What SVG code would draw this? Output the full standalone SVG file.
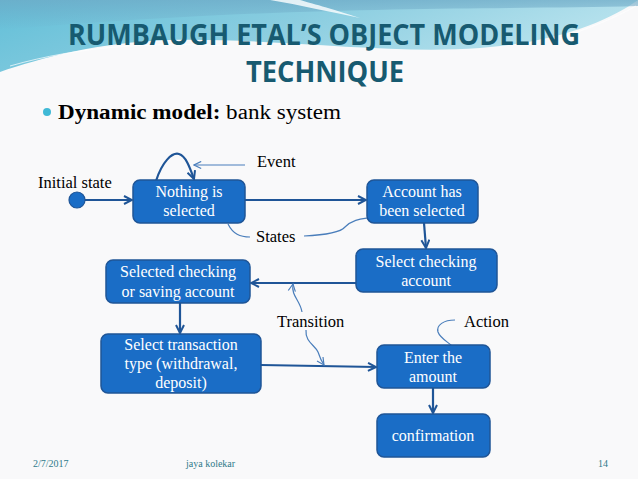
<svg xmlns="http://www.w3.org/2000/svg" width="638" height="479" viewBox="0 0 638 479">
<defs>
<linearGradient id="sw" x1="0" y1="0" x2="1" y2="0.3">
<stop offset="0" stop-color="#62bfd8"/>
<stop offset="0.5" stop-color="#8acde0"/>
<stop offset="1" stop-color="#b9e3ee"/>
</linearGradient>
<linearGradient id="sw2" x1="0" y1="0" x2="0" y2="1">
<stop offset="0" stop-color="#6ea9c6" stop-opacity="0.7"/>
<stop offset="1" stop-color="#6ea9c6" stop-opacity="0"/>
</linearGradient>
<marker id="ah" viewBox="0 0 10 10" refX="9" refY="5" markerWidth="10" markerHeight="10" markerUnits="userSpaceOnUse" orient="auto">
<path d="M1,1 L9,5 L1,9" fill="none" stroke="#1f5597" stroke-width="2"/>
</marker>
<marker id="ah2" viewBox="0 0 10 10" refX="9" refY="5" markerWidth="9" markerHeight="9" markerUnits="userSpaceOnUse" orient="auto-start-reverse">
<path d="M1,1 L9,5 L1,9" fill="none" stroke="#4a7ebb" stroke-width="1.3"/>
</marker>
<style>
.node rect{fill:#1a6dc6;stroke:#1f5597;stroke-width:1.5}
.nt{font-family:"Liberation Serif",serif;font-size:16px;fill:#ffffff;text-anchor:middle}
.lbl{font-family:"Liberation Serif",serif;font-size:16.5px;fill:#000000}
.con{fill:none;stroke:#1f5597;stroke-width:2.2;marker-end:url(#ah)}
.ann{fill:none;stroke:#4a7ebb;stroke-width:1.2}
.ft{font-family:"Liberation Serif",serif;font-size:10px;fill:#2f7a8a}
</style>
</defs>
<rect width="638" height="479" fill="#f9f9fa"/>
<path d="M0,0 H638 C610,20 560,42 480,48 C390,55 280,38 170,40 C100,42 40,58 0,72 Z" fill="url(#sw)"/>
<path d="M0,0 H638 V6 C500,10 300,4 0,30 Z" fill="url(#sw2)"/>
<path d="M270,0 C300,5 330,12 360,18 C330,8 310,3 300,0 Z" fill="#ffffff" opacity="0.8"/>
<path d="M10,66 C80,46 150,42 230,46" fill="none" stroke="#ffffff" stroke-width="1" opacity="0.7"/>
<path d="M560,38 C590,28 615,18 636,6" fill="none" stroke="#ffffff" stroke-width="1" opacity="0.7"/>

<g id="title" font-family="'Open Sans','Liberation Sans',sans-serif" font-weight="bold" fill="#175a70" text-anchor="middle">
<text x="324" y="45" font-size="29" textLength="512" lengthAdjust="spacingAndGlyphs">RUMBAUGH ETAL’S OBJECT MODELING</text>
<text x="325" y="82" font-size="29" textLength="158" lengthAdjust="spacingAndGlyphs">TECHNIQUE</text>
</g>
<g id="bullet">
<circle cx="47" cy="112" r="4" fill="#40b9d6"/>
<text x="58" y="119" font-family="'Liberation Serif',serif" font-size="20.5" fill="#000" textLength="283" lengthAdjust="spacingAndGlyphs"><tspan font-weight="bold">Dynamic model:</tspan> bank system</text>
</g>

<g id="connectors">
<path class="con" d="M85,200 L132,200"/>
<path class="con" d="M245,200 L366,200"/>
<path class="con" d="M424,223 L426,248"/>
<path class="con" d="M356,283 L251,283"/>
<path class="con" d="M180,303 L180,333"/>
<path class="con" d="M261,365 L376,367"/>
<path class="con" d="M433,388 L433,413"/>
<path class="con" d="M156,181 C162,162 172,152 179,154 C186,156 190,168 194,179"/>
</g>
<g id="annotations">
<path class="ann" d="M245,165 L194,165" marker-end="url(#ah2)"/>
<path class="ann" d="M228,224 C233,234 240,237 250,237"/>
<path class="ann" d="M304,236 C325,235 340,233 345,227 C352,220 360,219 367,218"/>
<path class="ann" d="M293,284 C291,296 300,300 302,312 M306,330 C305,342 315,345 318,352 C320,358 322,362 324,365" marker-start="url(#ah2)" marker-end="url(#ah2)"/>
<path class="ann" d="M455,320 C444,320 436,325 438,332 C440,338 448,342 452,346"/>
</g>

<g id="initial">
<circle cx="77" cy="200" r="8" fill="#1a6dc6" stroke="#1f5597" stroke-width="1.2"/>
</g>
<g id="n1" class="node"><rect x="133" y="180" width="112" height="43" rx="7"/><text class="nt" x="189" y="197">Nothing is</text><text class="nt" x="189" y="216">selected</text></g>
<g id="n2" class="node"><rect x="367" y="180" width="111" height="43" rx="7"/><text class="nt" x="422" y="197">Account has</text><text class="nt" x="422" y="216">been selected</text></g>
<g id="n3" class="node"><rect x="356" y="249" width="141" height="43" rx="7"/><text class="nt" x="426" y="267">Select checking</text><text class="nt" x="426" y="286">account</text></g>
<g id="n4" class="node"><rect x="106" y="260" width="144" height="43" rx="7"/><text class="nt" x="178" y="277">Selected checking</text><text class="nt" x="178" y="297">or saving account</text></g>
<g id="n5" class="node"><rect x="101" y="334" width="160" height="59" rx="7"/><text class="nt" x="181" y="350">Select transaction</text><text class="nt" x="181" y="369">type (withdrawal,</text><text class="nt" x="181" y="388">deposit)</text></g>
<g id="n6" class="node"><rect x="377" y="345" width="113" height="43" rx="7"/><text class="nt" x="433" y="363">Enter the</text><text class="nt" x="433" y="382">amount</text></g>
<g id="n7" class="node"><rect x="377" y="414" width="113" height="43" rx="7"/><text class="nt" x="433" y="441">confirmation</text></g>

<g id="labels">
<text class="lbl" x="38" y="188">Initial state</text>
<text class="lbl" x="257" y="167">Event</text>
<text class="lbl" x="256" y="242">States</text>
<text class="lbl" x="277" y="327">Transition</text>
<text class="lbl" x="464" y="327">Action</text>
</g>
<g id="footer">
<text class="ft" x="33" y="467">2/7/2017</text>
<text class="ft" x="186" y="467">jaya kolekar</text>
<text class="ft" x="598" y="467">14</text>
</g>
</svg>
